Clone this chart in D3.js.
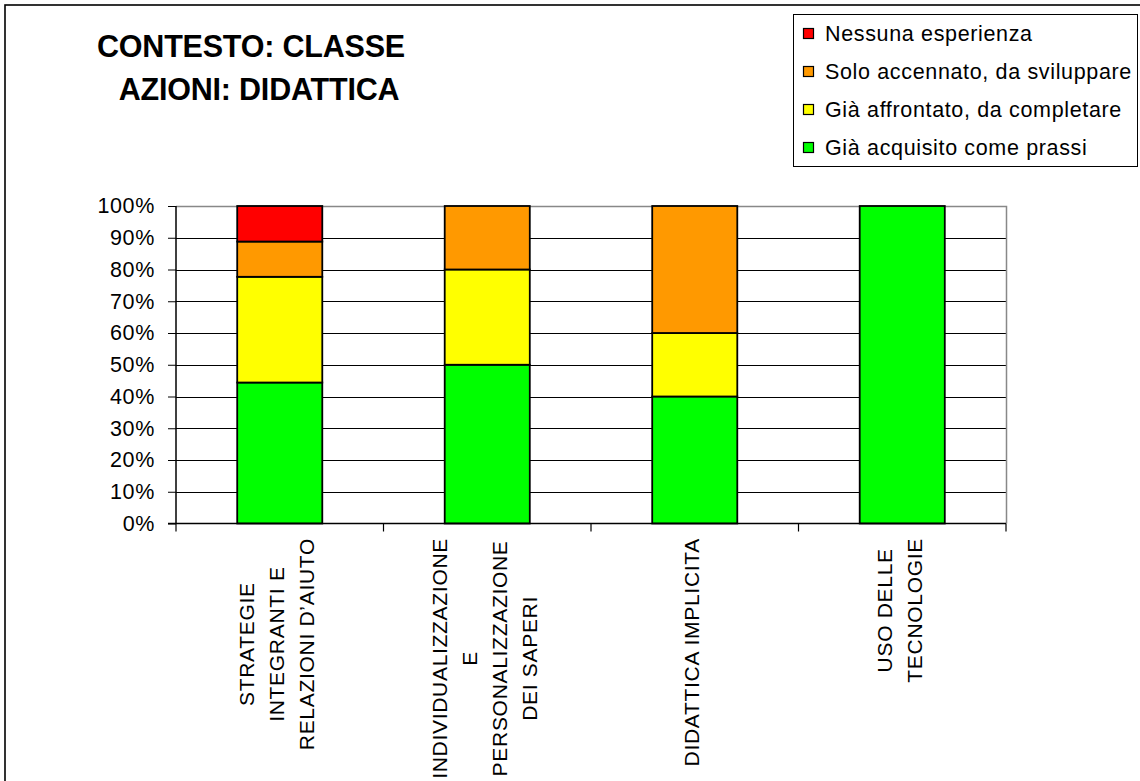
<!DOCTYPE html>
<html>
<head>
<meta charset="utf-8">
<script src="https://cdn.jsdelivr.net/npm/d3@7/dist/d3.min.js"></script>
<style>
  html, body { margin: 0; padding: 0; background: #fff; }
  svg { display: block; }
  text { font-family: "Liberation Sans", Arial, Helvetica, sans-serif; fill: #000; }
</style>
</head>
<body>
<svg id="chart" width="1140" height="781"></svg>
<script>
// ---- data ----
const titleLines = ["CONTESTO: CLASSE", "AZIONI: DIDATTICA"];
const categoryLines = [
  ["STRATEGIE", "INTEGRANTI E", "RELAZIONI D\u2019AIUTO"],
  ["INDIVIDUALIZZAZIONE", "E", "PERSONALIZZAZIONE", "DEI SAPERI"],
  ["DIDATTICA IMPLICITA"],
  ["USO DELLE", "TECNOLOGIE"]
];
const seriesNames = [
  "Già acquisito come prassi",
  "Già affrontato, da completare",
  "Solo accennato, da sviluppare",
  "Nessuna esperienza"
];
const seriesColors = ["#00FF00", "#FFFF00", "#FF9900", "#FF0000"];
const acquisito  = [44.4, 50, 40, 100];
const affrontato = [33.3, 30, 20, 0];
const accennato  = [11.1, 20, 40, 0];
const nessuna    = [11.2, 0, 0, 0];
const seriesValues = [acquisito, affrontato, accennato, nessuna];
const yTicks = [0, 10, 20, 30, 40, 50, 60, 70, 80, 90, 100];

// ---- layout ----
const svg = d3.select("#chart");
const plot = { left: 176, right: 1006, top: 206, bottom: 523.5 };
const FS = 21.5, LS = 0.65;

// outer chart border
svg.append("rect").attr("x", 5).attr("y", 5).attr("width", 1200).attr("height", 900)
  .attr("fill", "none").attr("stroke", "#000").attr("stroke-width", 1.6);

// title
svg.append("g").selectAll("text").data(titleLines).join("text")
  .attr("x", (d, i) => i === 0 ? 251 : 259)
  .attr("y", (d, i) => 57 + i * 43)
  .attr("text-anchor", "middle")
  .attr("font-size", 30.5).attr("font-weight", "bold").attr("letter-spacing", -0.2)
  .text(d => d);

// scales
const catKeys = categoryLines.map(l => l.join(" "));
const x = d3.scaleBand().domain(catKeys).range([plot.left, plot.right])
  .paddingInner(0.59).paddingOuter(0.295);
const y = d3.scaleLinear().domain([0, 100]).range([plot.bottom, plot.top]);

// gridlines
svg.append("g").selectAll("line").data(yTicks.filter(t => t > 0 && t < 100)).join("line")
  .attr("x1", plot.left).attr("x2", plot.right)
  .attr("y1", d => Math.round(y(d)) + 0.5).attr("y2", d => Math.round(y(d)) + 0.5)
  .attr("stroke", "#000").attr("stroke-width", 1);

// plot area border (top and right, gray)
svg.append("path")
  .attr("d", `M${plot.left},${plot.top + 0.5}H${plot.right + 0.5}V${plot.bottom}`)
  .attr("fill", "none").attr("stroke", "#888").attr("stroke-width", 1.5);

// stacked bars
const rows = catKeys.map((k, i) => {
  const r = { key: k };
  seriesNames.forEach((s, j) => r[s] = seriesValues[j][i]);
  return r;
});
const stacked = d3.stack().keys(seriesNames)(rows);
svg.append("g").selectAll("g").data(stacked).join("g")
  .attr("fill", (d, i) => seriesColors[i])
  .selectAll("rect").data(d => d.filter(p => p[1] - p[0] > 0)).join("rect")
  .attr("x", d => x(d.data.key))
  .attr("width", x.bandwidth())
  .attr("y", d => y(d[1]))
  .attr("height", d => y(d[0]) - y(d[1]))
  .attr("stroke", "#000").attr("stroke-width", 1.8);

// y axis
const yAxis = svg.append("g").attr("transform", `translate(${plot.left},0)`)
  .call(d3.axisLeft(y).tickValues(yTicks).tickFormat(d => d + "%").tickSize(8).tickPadding(13));
yAxis.select(".domain").attr("stroke", "#000").attr("stroke-width", 1.5)
  .attr("d", `M0,${plot.top}V${plot.bottom}`);
yAxis.selectAll(".tick line").attr("stroke", "#000");
yAxis.selectAll(".tick text").attr("font-size", FS).attr("letter-spacing", LS)
  .attr("font-family", "Liberation Sans, Arial, sans-serif").attr("fill", "#000");

// x axis line and boundary ticks
const step = x.step();
const bounds = d3.range(catKeys.length + 1).map(i => plot.left + i * step);
svg.append("line").attr("x1", plot.left - 8).attr("x2", plot.right)
  .attr("y1", plot.bottom).attr("y2", plot.bottom)
  .attr("stroke", "#000").attr("stroke-width", 1.5);
svg.append("g").selectAll("line").data(bounds).join("line")
  .attr("x1", d => d).attr("x2", d => d)
  .attr("y1", plot.bottom).attr("y2", plot.bottom + 8)
  .attr("stroke", "#000").attr("stroke-width", 1.2);

// x category labels (rotated, multi-line, centered on longest line)
const labelG = svg.append("g").selectAll("g").data(categoryLines).join("g")
  .attr("transform", (d, i) => `translate(${x(catKeys[i]) + x.bandwidth() / 2 - 3},538) rotate(-90)`);
labelG.each(function (lines) {
  const g = d3.select(this);
  const texts = g.selectAll("text").data(lines).join("text")
    .attr("font-size", 21).attr("letter-spacing", 0.7)
    .attr("text-anchor", "middle")
    .attr("y", (d, i) => (i - (lines.length - 1) / 2) * 30)
    .attr("dy", "0.36em")
    .text(d => d);
  let maxLen = 0;
  texts.each(function () { maxLen = Math.max(maxLen, this.getComputedTextLength()); });
  texts.attr("x", -maxLen / 2);
});

// legend
svg.append("rect").attr("x", 793.5).attr("y", 14.5).attr("width", 344).attr("height", 152)
  .attr("fill", "#fff").attr("stroke", "#000").attr("stroke-width", 1);
const legendOrder = [3, 2, 1, 0];
const leg = svg.append("g").selectAll("g").data(legendOrder).join("g")
  .attr("transform", (d, i) => `translate(0,${i * 38})`);
leg.append("rect").attr("x", 803.5).attr("y", 28.5).attr("width", 10).attr("height", 10)
  .attr("fill", d => seriesColors[d]).attr("stroke", "#000").attr("stroke-width", 1.2);
leg.append("text").attr("x", 825).attr("y", 40.5)
  .attr("font-size", FS).attr("letter-spacing", LS)
  .text(d => seriesNames[d]);
</script>
</body>
</html>
